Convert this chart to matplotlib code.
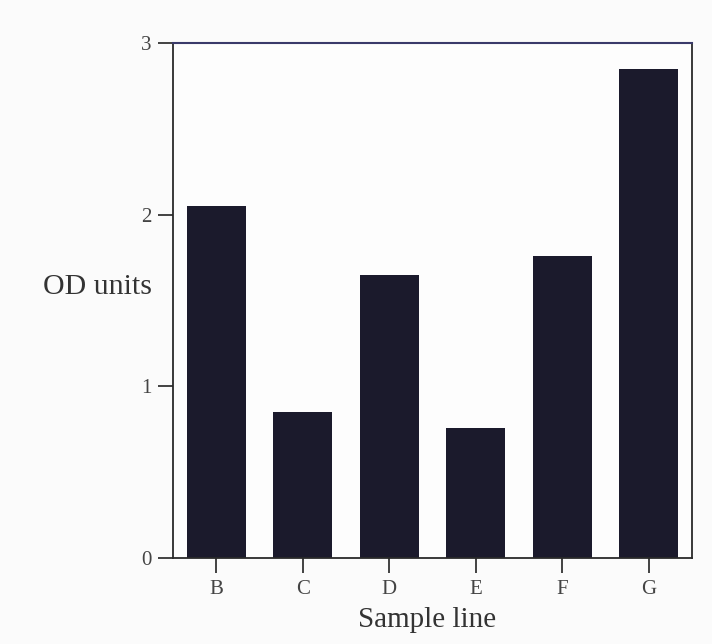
import numpy as np
import matplotlib.pyplot as plt

samples = ['B', 'C', 'D', 'E', 'F', 'G']
od_units = [2.05, 0.85, 1.65, 0.76, 1.76, 2.85]
yticks = [0, 1, 2, 3]


def main():
    plt.rcParams['font.family'] = ['Liberation Serif', 'DejaVu Serif']
    fig = plt.figure(figsize=(7.12, 6.44), dpi=100, facecolor='#fbfbfb')
    ax = fig.add_axes([0.243, 0.1335, 0.729, 0.7995])
    ax.set_facecolor('#fdfdfd')

    x = np.arange(len(samples))
    ax.bar(x, od_units, width=0.68, color='#1b1a2c')

    ax.set_xlim(-0.5, len(samples) - 0.5)
    ax.set_ylim(0, 3)
    ax.set_xticks(x)
    ax.set_xticklabels(samples)
    ax.set_yticks(yticks)
    ax.tick_params(direction='out', length=10.5, width=1.3, colors='#333333',
                   labelsize=15, labelcolor='#444444', pad=5)

    for side in ['left', 'bottom', 'right']:
        ax.spines[side].set_linewidth(1.3)
        ax.spines[side].set_color('#2a2a2a')
    ax.spines['top'].set_linewidth(1.5)
    ax.spines['top'].set_color('#3a3a6a')

    ax.set_xlabel('Sample line', fontsize=21, color='#333333')
    ax.xaxis.set_label_coords(0.49, -0.095)
    ax.set_ylabel('OD units', fontsize=21.5, color='#333333', rotation=0,
                  ha='right', va='center')
    ax.yaxis.set_label_coords(-0.04, 0.526)

    fig.savefig('out.png', dpi=100, facecolor=fig.get_facecolor())


if __name__ == '__main__':
    main()
